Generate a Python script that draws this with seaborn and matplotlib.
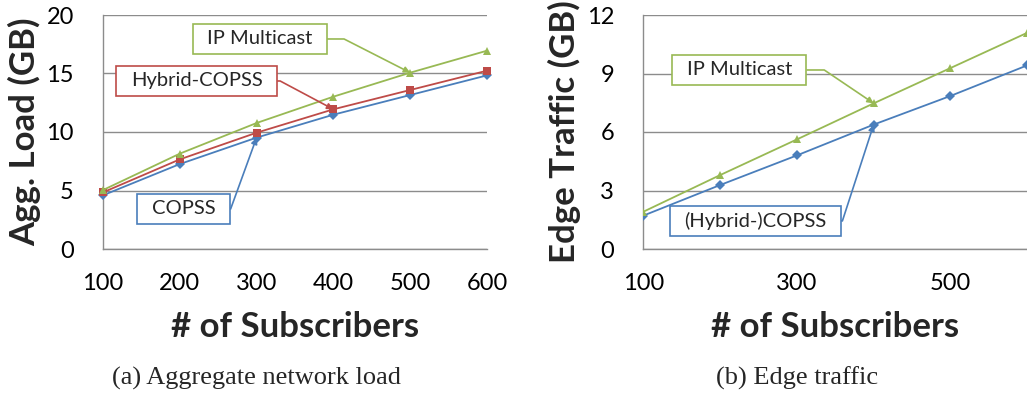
import matplotlib
matplotlib.use("Agg")
import matplotlib.pyplot as plt
from matplotlib.path import Path
import seaborn as sns
import pandas as pd

subscribers = [100, 200, 300, 400, 500, 600]
agg_ip_multicast = [5.04, 8.15, 10.77, 13.02, 15.07, 16.95]
agg_hybrid_copss = [4.84, 7.66, 9.94, 11.94, 13.59, 15.24]
agg_copss = [4.59, 7.26, 9.52, 11.48, 13.16, 14.84]
edge_ip_multicast = [1.91, 3.79, 5.62, 7.47, 9.28, 11.09]
edge_copss = [1.71, 3.28, 4.80, 6.38, 7.85, 9.42]

left_xticks = [100, 200, 300, 400, 500, 600]
right_xticks = [100, 300, 500]
left_yticks = [0, 5, 10, 15, 20]
right_yticks = [0, 3, 6, 9, 12]

BLUE = "#4A7EBB"
RED = "#BE4B48"
GREEN = "#98B954"
GRID = "#8C8C8C"

sns.set_style("white")
plt.rcParams["font.family"] = ["Lato", "DejaVu Sans"]

fig = plt.figure(figsize=(10.27, 3.96), dpi=100)
W, H = 1027, 396
ax1 = fig.add_axes([103 / W, (396 - 249) / H, 384 / W, 234 / H])
ax2 = fig.add_axes([643.3 / W, (396 - 249) / H, 384 / W, 234 / H])

df1 = pd.DataFrame({
    "x": subscribers * 3,
    "y": agg_copss + agg_hybrid_copss + agg_ip_multicast,
    "s": ["COPSS"] * 6 + ["Hybrid-COPSS"] * 6 + ["IP Multicast"] * 6,
})
df2 = pd.DataFrame({
    "x": subscribers * 2,
    "y": edge_copss + edge_ip_multicast,
    "s": ["(Hybrid-)COPSS"] * 6 + ["IP Multicast"] * 6,
})

sns.lineplot(data=df1, x="x", y="y", hue="s", style="s",
             palette={"COPSS": BLUE, "Hybrid-COPSS": RED, "IP Multicast": GREEN},
             markers={"COPSS": "D", "Hybrid-COPSS": "s", "IP Multicast": "^"},
             dashes=False, markersize=5.5, markeredgewidth=0, linewidth=1.3,
             legend=False, ax=ax1, clip_on=False, zorder=3)
sns.lineplot(data=df2, x="x", y="y", hue="s", style="s",
             palette={"(Hybrid-)COPSS": BLUE, "IP Multicast": GREEN},
             markers={"(Hybrid-)COPSS": "D", "IP Multicast": "^"},
             dashes=False, markersize=5.5, markeredgewidth=0, linewidth=1.3,
             legend=False, ax=ax2, zorder=3)

def style_axes(ax, xticks, yticks, ylabel):
    ax.set_xlim(100, 600)
    ax.set_ylim(yticks[0], yticks[-1])
    ax.set_xticks(xticks)
    ax.set_yticks(yticks)
    ax.set_xticklabels([str(v) for v in xticks], fontsize=17)
    ax.set_yticklabels([str(v) for v in yticks], fontsize=17)
    ax.yaxis.grid(True, color=GRID, linewidth=1.0)
    ax.xaxis.grid(False)
    ax.set_axisbelow(True)
    for s in ["top", "right"]:
        ax.spines[s].set_visible(False)
    for s in ["left", "bottom"]:
        ax.spines[s].set_color(GRID)
        ax.spines[s].set_linewidth(1.0)
    ax.tick_params(axis="both", direction="out", length=7, width=1.0,
                   color=GRID, labelcolor="black")
    ax.tick_params(axis="x", pad=10)
    ax.tick_params(axis="y", pad=14)
    ax.set_xlabel("# of Subscribers", fontsize=25, fontweight="bold")
    ax.set_ylabel(ylabel, fontsize=25, fontweight="bold")
    ax.xaxis.set_label_coords(0.5, -0.335)
    ax.xaxis.label.set_va("center")
    ax.yaxis.set_label_coords(-0.205, 0.5)
    ax.yaxis.label.set_va("center")

style_axes(ax1, left_xticks, left_yticks, "Agg. Load (GB)")
style_axes(ax2, right_xticks, right_yticks, "Edge Traffic (GB)")

def make_box(padx, pady):
    def box(x0, y0, width, height, mutation_size):
        px = padx * mutation_size
        py = pady * mutation_size
        x0, y0 = x0 - px, y0 - py
        x1, y1 = x0 + width + 2 * px, y0 + height + 2 * py
        return Path([(x0, y0), (x1, y0), (x1, y1), (x0, y1), (x0, y0)], closed=True)
    return box

def callout(ax, text, color, xy, xytext, angleB):
    ax.annotate(text, xy=xy, xytext=xytext, xycoords="data", textcoords="data",
                ha="center", va="center", fontsize=14.5, zorder=5,
                bbox=dict(boxstyle=make_box(0.72, 0.3), fc="white", ec=color, lw=1.2),
                arrowprops=dict(arrowstyle="-|>", color=color, lw=1.2,
                                mutation_scale=9, shrinkA=0, shrinkB=0,
                                connectionstyle=f"angle,angleA=0,angleB={angleB},rad=0"))

callout(ax1, "IP Multicast", GREEN, (500, 15.07), (304, 17.95), -27)
callout(ax1, "Hybrid-COPSS", RED, (400, 11.94), (222, 14.36), -28)
callout(ax1, "COPSS", BLUE, (300, 9.52), (205, 3.42), 70)
callout(ax2, "IP Multicast", GREEN, (400, 7.47), (225, 9.18), -34)
callout(ax2, "(Hybrid-)COPSS", BLUE, (400, 6.38), (246, 1.44), 72)

fig.text(257 / W, 1 - 378 / H, "(a) Aggregate network load", ha="center", va="center",
         fontsize=19, family=["Liberation Serif", "DejaVu Serif"])
fig.text(797 / W, 1 - 378 / H, "(b) Edge traffic", ha="center", va="center",
         fontsize=19, family=["Liberation Serif", "DejaVu Serif"])

fig.savefig("out.png", dpi=100)
